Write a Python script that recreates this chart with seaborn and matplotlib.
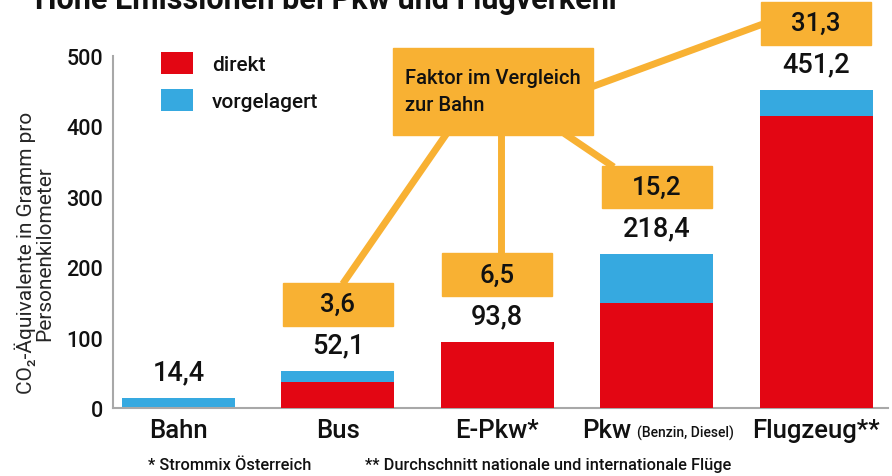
import pandas as pd
import matplotlib.pyplot as plt
import seaborn as sns
from matplotlib.patches import Rectangle
from matplotlib.transforms import offset_copy

# Daten
modes = ["Bahn", "Bus", "E-Pkw*", "Pkw", "Flugzeug**"]
direkt = [0.0, 37.0, 93.8, 149.0, 415.0]
vorgelagert = [14.4, 15.1, 0.0, 69.4, 36.2]
totals = [14.4, 52.1, 93.8, 218.4, 451.2]
factors = ["", "3,6", "6,5", "15,2", "31,3"]
y_ticks = [0, 100, 200, 300, 400, 500]

title = "Hohe Emissionen bei Pkw und Flugverkehr"
ylabel = "CO₂-Äquivalente in Gramm pro\nPersonenkilometer"
pkw_note = "(Benzin, Diesel)"
box_text = "Faktor im Vergleich\nzur Bahn"
foot1 = "* Strommix Österreich"
foot2 = "** Durchschnitt nationale und internationale Flüge"

RED = "#E30613"
BLUE = "#36A9E0"
ORANGE = "#F8B133"
INK = "#111111"
GREY = "#A8A8A8"

sns.set_style("white")
plt.rcParams['font.family'] = ['Roboto', 'DejaVu Sans']
plt.rcParams['font.weight'] = 'medium'
plt.rcParams['text.color'] = INK

df = pd.DataFrame({"mode": modes, "direkt": direkt, "vorgelagert": vorgelagert})
df["total"] = df["direkt"] + df["vorgelagert"]

fig = plt.figure(figsize=(8.92, 4.77), dpi=100)
ax = fig.add_axes([113 / 892, 1 - 409 / 477, 775 / 892, 409 / 477])

# gestapelte Balken: gesamt (blau) hinten, direkt (rot) davor
sns.barplot(data=df, x="mode", y="total", color=BLUE, saturation=1, width=0.71,
            label="vorgelagert", ax=ax, zorder=2, linewidth=0, edgecolor='none')
sns.barplot(data=df, x="mode", y="direkt", color=RED, saturation=1, width=0.71,
            label="direkt", ax=ax, zorder=3, linewidth=0, edgecolor='none')

ax.set_xlim(-0.41, 4.45)
ax.set_ylim(0, 581)
ax.set_xlabel("")
ax.set_ylabel(ylabel, fontsize=15, linespacing=0.92)
ax.yaxis.set_label_coords(-0.076, 0.381)

# Achsen
sns.despine(ax=ax, top=True, right=True)
ax.spines['left'].set_color(GREY)
ax.spines['left'].set_linewidth(1.5)
ax.spines['left'].set_bounds(0, 500)
ax.spines['bottom'].set_color(GREY)
ax.spines['bottom'].set_linewidth(1.5)
ax.set_yticks(y_ticks)
ax.tick_params(axis='y', direction='in', length=14, width=1.2, color=GREY,
               labelsize=15.5, pad=7, labelcolor=INK)
ax.tick_params(axis='x', length=0, labelsize=18.5, pad=7, labelcolor=INK)

# Pkw-Beschriftung nach links schieben + Zusatz
ax.set_xticks(range(len(modes)), modes)
pkw_lbl = ax.get_xticklabels()[3]
pkw_lbl.set_transform(offset_copy(pkw_lbl.get_transform(), fig=fig, x=-50, y=0, units='dots'))
ax.annotate(pkw_note, xy=(1, 0), xycoords=pkw_lbl, xytext=(4, 1.5),
            textcoords='offset points', fontsize=10, va='bottom', ha='left')

# Werte ueber den Balken + Faktor-Kaesten
for i, (tot, fac) in enumerate(zip(totals, factors)):
    ax.text(i, tot + 37, f"{tot:.1f}".replace(".", ","), ha='center', va='center',
            fontsize=19.5, zorder=5)
    if fac:
        ax.add_patch(Rectangle((i - 0.345, tot + 65), 0.69, 61, color=ORANGE,
                               zorder=4, clip_on=False))
        ax.text(i, tot + 95.5, fac, ha='center', va='center', fontsize=18.5, zorder=5)

# grosser Kasten "Faktor im Vergleich zur Bahn"
ax.add_patch(Rectangle((1.345, 388), 1.254, 123, color=ORANGE, zorder=4))
ax.text(1.42, 450, box_text, ha='left', va='center', fontsize=14.5,
        linespacing=1.5, zorder=5)

# Verbindungslinien
lw = 5
ax.plot([1.683, 1.03], [390, totals[1] + 124], color=ORANGE, lw=lw, zorder=1,
        solid_capstyle='butt')
ax.plot([2.022, 2.022], [390, totals[2] + 124], color=ORANGE, lw=lw, zorder=1,
        solid_capstyle='butt')
ax.plot([2.42, 2.73], [390, totals[3] + 124], color=ORANGE, lw=lw, zorder=1,
        solid_capstyle='butt')
ax.plot([2.59, 3.66], [456, 545], color=ORANGE, lw=lw, zorder=1,
        solid_capstyle='butt')

# Legende
handles, labels = ax.get_legend_handles_labels()
order = [labels.index("direkt"), labels.index("vorgelagert")]
ax.legend([handles[k] for k in order], [labels[k] for k in order],
          loc='upper left', bbox_to_anchor=(161 / 892, 1 - 53 / 477),
          bbox_transform=fig.transFigure, frameon=False, fontsize=15,
          handlelength=1.55, handleheight=1.25, handletextpad=0.9,
          labelspacing=0.7, borderpad=0, borderaxespad=0)

# Titel (oben abgeschnitten) und Fussnoten
fig.text(35 / 892, 1 - 9 / 477, title, fontsize=22, fontweight='bold',
         ha='left', va='baseline')
fig.text(148 / 892, 1 - 466 / 477, foot1, fontsize=11.8, ha='left', va='center')
fig.text(365 / 892, 1 - 466 / 477, foot2, fontsize=11.8, ha='left', va='center')

plt.savefig("out.png", dpi=100)
